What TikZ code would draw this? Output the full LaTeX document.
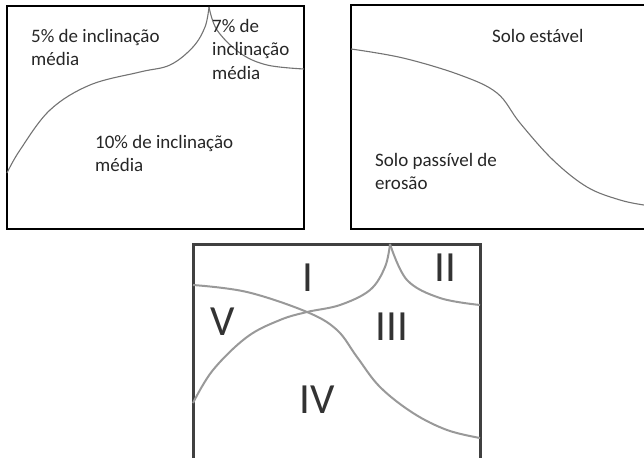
\documentclass[tikz,border=0pt]{standalone}
\usepackage{fontspec}
\setmainfont{Carlito}
\begin{document}
\begin{tikzpicture}[x=1pt,y=-1pt,
  boxline/.style={draw=black,line width=2.5pt},
  greybox/.style={draw=black!75,line width=3pt},
  curve/.style={draw=black!55,line width=1.1pt},
  lightcurve/.style={draw=black!40,line width=2pt},
  lab/.style={anchor=north west,inner sep=0pt,align=left,font=\fontsize{19}{23.5}\selectfont,text=black!85},
  numeral/.style={inner sep=0pt,font=\fontsize{43}{43}\selectfont,text=black!80}]
\useasboundingbox (0,0) rectangle (644,457);
\clip (0,0) rectangle (644,457);
% box 1
\draw[boxline] (7,6) rectangle (304,229);
\draw[curve] plot[smooth,tension=0.6] coordinates {(7,173) (20,150) (50,110) (90,85) (140,72) (170,65) (193,47) (205,27) (209,7)};
\draw[curve] plot[smooth,tension=0.6] coordinates {(209,7) (217,30) (240,53) (267,65) (304,69)};
\node[lab] (t1) at (31,29) {5\% de inclinação\\média};
\node[lab] (t2) at (212,19) {7\% de\\inclinação\\média};
\node[lab] (t3) at (95,135) {10\% de inclinação\\média};
% box 2
\draw[boxline] (351,5) rectangle (660,229);
\draw[curve] plot[smooth,tension=0.6] coordinates {(351,49) (403,58) (460,75) (497,93) (520,123) (553,160) (587,187) (620,200) (644,205)};
\node[lab] (t4) at (492,29) {Solo estável};
\node[lab] (t5) at (375,153) {Solo passível de\\erosão};
% box 3
\draw[greybox] (193,244) rectangle (480,480);
\draw[lightcurve] plot[smooth,tension=0.6] coordinates {(193,403) (213,370) (247,337) (280,320) (307,312) (340,305) (370,290) (385,267) (390,244)};
\draw[lightcurve] plot[smooth,tension=0.6] coordinates {(390,244) (407,280) (440,298) (480,305)};
\draw[lightcurve] plot[smooth,tension=0.6] coordinates {(193,285) (247,292) (307,312) (337,330) (357,357) (380,387) (413,413) (447,430) (480,438)};
\node[numeral] (n1) at (308,278) {I};
\node[numeral] (n2) at (445,268) {II};
\node[numeral] (n5) at (223,322) {V};
\node[numeral] (n3) at (392,327) {III};
\node[numeral] (n4) at (317,400) {IV};
\end{tikzpicture}
\end{document}
